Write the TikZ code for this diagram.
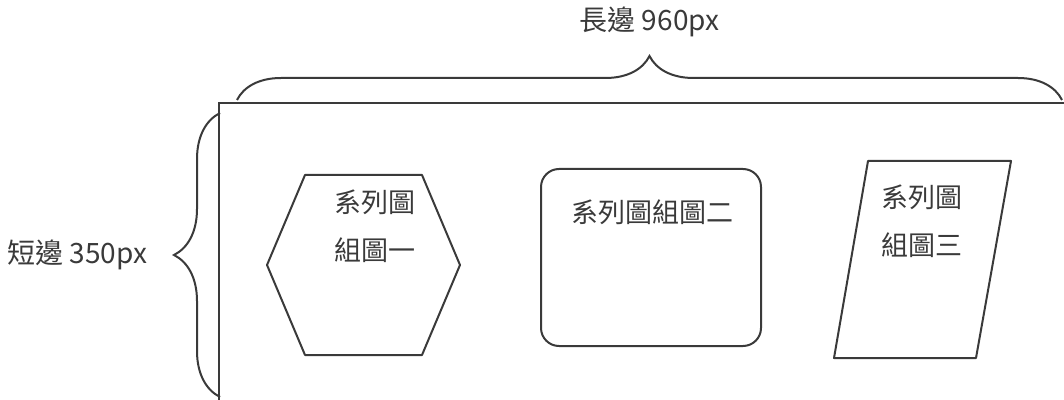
\documentclass[tikz,border=0pt]{standalone}
\usepackage{fontspec}
\setmainfont{Noto Sans CJK TC}
\usetikzlibrary{decorations.pathreplacing}
\definecolor{tinta}{HTML}{3A3A3A}
\tikzstyle{marco} = [draw=tinta, line width=1.1pt]
\tikzstyle{llave} = [draw=tinta, line width=1pt, decorate, decoration={brace, amplitude=22pt}]
\tikzstyle{figura} = [draw=tinta, line width=1pt, line join=round]
\tikzstyle{rotulo} = [text=tinta, font=\fontsize{14}{16}\selectfont, inner sep=0pt]
\tikzstyle{texto} = [text=tinta, font=\fontsize{13.5}{16}\selectfont, inner sep=0pt]

\begin{document}
\begin{tikzpicture}[x=0.5pt, y=-0.5pt]
	\useasboundingbox (0,0) rectangle (1064,400);
	\draw[marco] (219,400) -- (219,103) -- (1064,103);
	\draw[llave] (237,100) -- (1062,100) node[midway, above=31pt, rotulo](largo){長邊 960px};
	\draw[llave, decoration={amplitude=23pt}] (220,397) -- (220,113) node[midway, left=36pt, rotulo](corto){短邊 350px};
	\draw[figura] (267,265) -- (305,175) -- (422,175) -- (460,265) -- (422,355) -- (305,355) -- cycle;
	\node[texto](uno1) at (375,202) {系列圖};
	\node[texto](uno2) at (375,250) {組圖一};
	\draw[figura, rounded corners=9pt] (541,169) rectangle (761,346);
	\node[texto](dos) at (652,212) {系列圖組圖二};
	\draw[figura] (868,161) -- (1011,161) -- (976,358) -- (834,358) -- cycle;
	\node[texto](tres1) at (922,197) {系列圖};
	\node[texto](tres2) at (922,245) {組圖三};
\end{tikzpicture}
\end{document}
